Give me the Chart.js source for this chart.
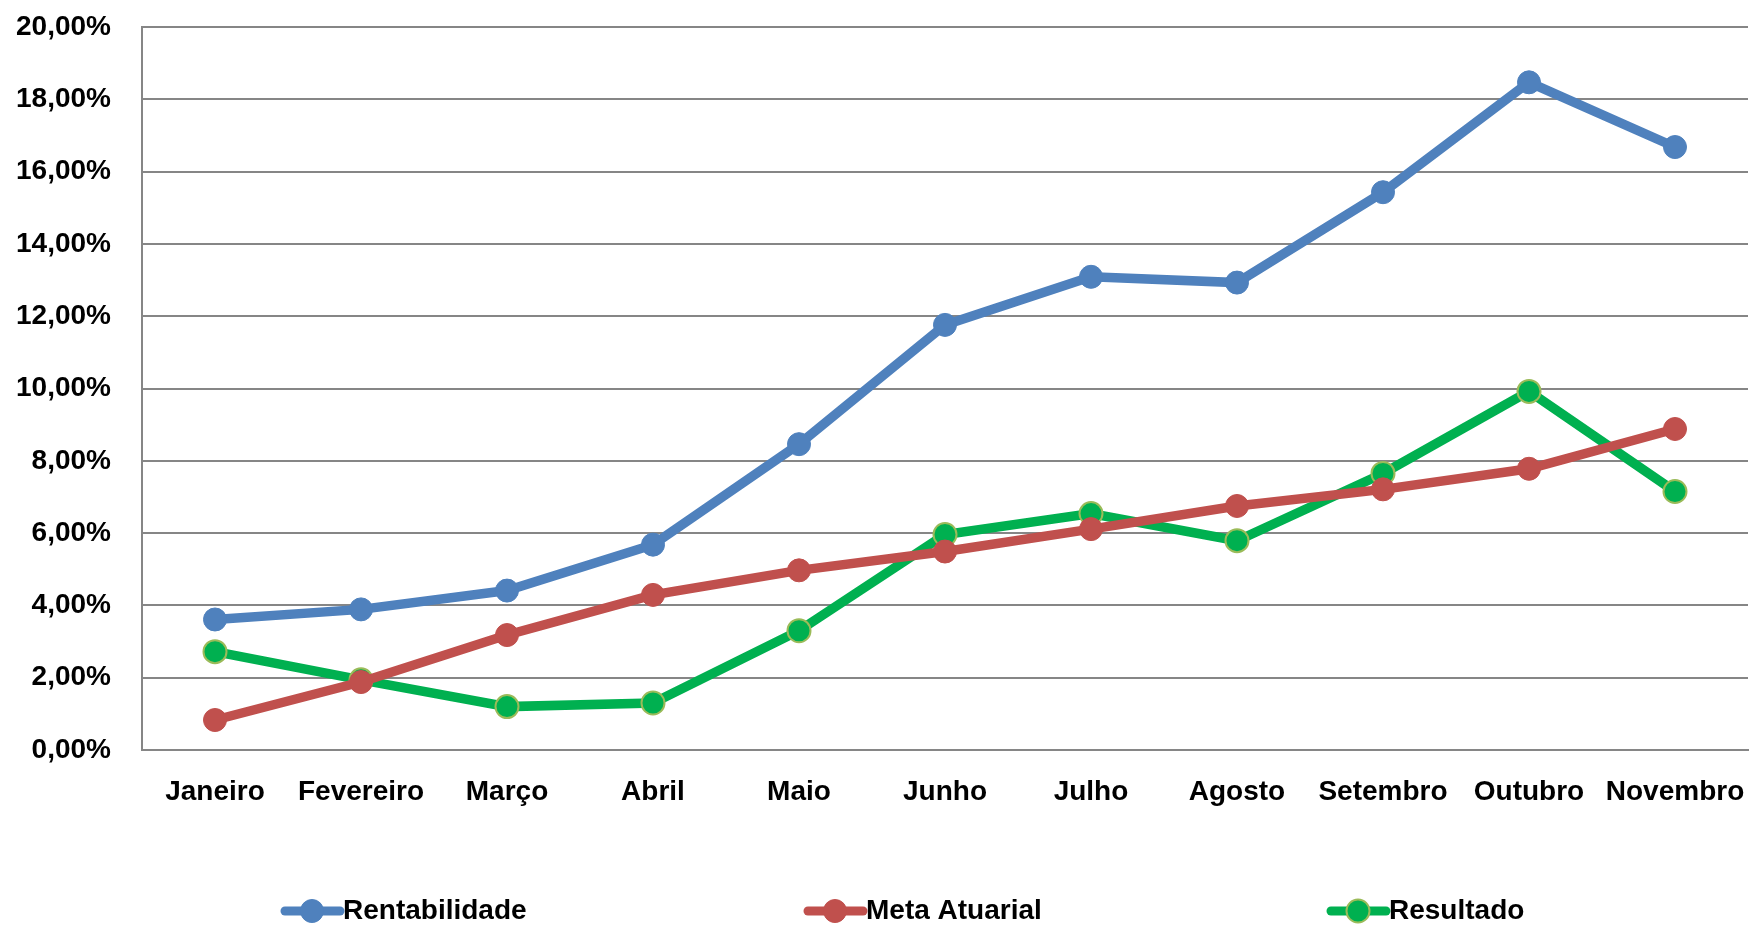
<!DOCTYPE html>
<html>
<head>
<meta charset="utf-8">
<script src="https://cdn.jsdelivr.net/npm/chart.js@4"></script>
<style>
  html, body { margin: 0; padding: 0; background: #fff; overflow: hidden; }
  #wrap { width: 1750px; height: 925px; position: relative; }
</style>
</head>
<body>
<div id="wrap"><canvas id="grafico"></canvas></div>
<script>
const meses = ['Janeiro', 'Fevereiro', 'Março', 'Abril', 'Maio', 'Junho', 'Julho', 'Agosto', 'Setembro', 'Outubro', 'Novembro'];
const rentabilidade = [3.61, 3.89, 4.41, 5.68, 8.46, 11.76, 13.09, 12.93, 15.43, 18.47, 16.68];
const metaAtuarial = [0.83, 1.88, 3.18, 4.29, 4.97, 5.49, 6.11, 6.75, 7.21, 7.78, 8.88];
const resultado = [2.72, 1.94, 1.20, 1.30, 3.30, 5.96, 6.54, 5.79, 7.65, 9.92, 7.15];
const yMax = 20;
const yStep = 2;

const fonte = "'Liberation Sans', Arial, sans-serif";
const cores = { azul: '#4F81BD', vermelho: '#C0504D', verde: '#00B050', verdeBorda: '#9BBB59' };

// legenda desenhada à mão (linha + marcador + texto, como no Excel)
const legendaExcel = {
    id: 'legendaExcel',
    afterDraw(chart) {
        const ctx = chart.ctx;
        const y = 911;
        let x = 285;
        ctx.save();
        chart.data.datasets.forEach(ds => {
            ctx.strokeStyle = ds.borderColor;
            ctx.lineWidth = 9;
            ctx.lineCap = 'round';
            ctx.beginPath();
            ctx.moveTo(x, y);
            ctx.lineTo(x + 55, y);
            ctx.stroke();
            ctx.beginPath();
            ctx.arc(x + 27, y, 11.5, 0, Math.PI * 2);
            ctx.fillStyle = ds.pointBackgroundColor;
            ctx.fill();
            ctx.lineWidth = ds.pointBorderWidth;
            ctx.strokeStyle = ds.pointBorderColor;
            ctx.stroke();
            ctx.fillStyle = '#000';
            ctx.font = 'bold 28px ' + fonte;
            ctx.textBaseline = 'middle';
            ctx.textAlign = 'left';
            ctx.fillText(ds.label, x + 58, y);
            x += 523;
        });
        ctx.restore();
    }
};

function serie(label, dados, cor, borda, bordaLarg) {
    return {
        label: label,
        data: dados,
        borderColor: cor,
        backgroundColor: cor,
        borderWidth: 9.5,
        pointRadius: 11.5,
        pointHoverRadius: 11.5,
        pointBackgroundColor: cor,
        pointBorderColor: borda,
        pointBorderWidth: bordaLarg,
        tension: 0,
        fill: false
    };
}

new Chart(document.getElementById('grafico'), {
    type: 'line',
    data: {
        labels: meses,
        datasets: [
            serie('Rentabilidade', rentabilidade, cores.azul, cores.azul, 1),
            serie('Meta Atuarial', metaAtuarial, cores.vermelho, cores.vermelho, 1),
            serie('Resultado', resultado, cores.verde, cores.verdeBorda, 2)
        ]
    },
    options: {
        responsive: true,
        maintainAspectRatio: false,
        animation: false,
        // autoPadding desligado: senão o raio dos pontos encolhe a área à direita
        layout: { autoPadding: false, padding: { top: 27, right: 2, left: 0, bottom: 0 } },
        plugins: { legend: { display: false }, tooltip: { enabled: false } },
        scales: {
            x: {
                offset: true,
                afterFit: scale => {
                    scale.height = 175;
                    scale.paddingLeft = 0;
                    scale.paddingRight = 0;
                },
                grid: { display: false, drawTicks: false },
                border: { display: true, color: '#868686', width: 2 },
                // padding 0 + lineHeight alta: desce o texto sem encolher a área do gráfico
                ticks: { color: '#000', padding: 0, maxRotation: 0, autoSkip: false, font: { family: fonte, size: 28, weight: 'bold', lineHeight: '84px' } }
            },
            y: {
                min: 0,
                max: yMax,
                afterFit: scale => {
                    scale.width = 142;
                    scale.paddingTop = 0;
                    scale.paddingBottom = 0;
                },
                grid: { color: '#868686', lineWidth: 2, drawTicks: false },
                border: { display: true, color: '#868686', width: 2 },
                ticks: {
                    stepSize: yStep,
                    color: '#000',
                    padding: 31,
                    font: { family: fonte, size: 28, weight: 'bold' },
                    callback: v => v.toFixed(2).replace('.', ',') + '%'
                }
            }
        }
    },
    plugins: [legendaExcel]
});
</script>
</body>
</html>
